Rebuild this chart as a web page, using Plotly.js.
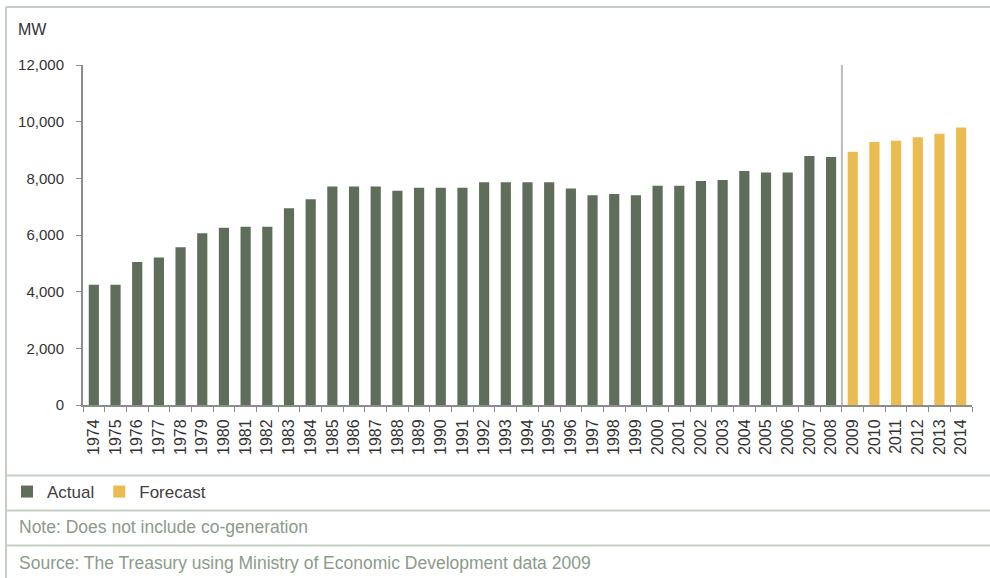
<!DOCTYPE html>
<html>
<head>
<meta charset="utf-8">
<script src="https://cdn.plot.ly/plotly-3.0.1.min.js"></script>
<style>
  html, body { margin: 0; padding: 0; background: #ffffff; }
  #chart { width: 990px; height: 578px; }
</style>
</head>
<body>
<div id="chart"></div>
<script>
// ---- Data ----
const actualYears = ["1974","1975","1976","1977","1978","1979","1980","1981","1982","1983",
  "1984","1985","1986","1987","1988","1989","1990","1991","1992","1993","1994","1995",
  "1996","1997","1998","1999","2000","2001","2002","2003","2004","2005","2006","2007","2008"];
const actualMW = [4240,4240,5050,5210,5570,6060,6260,6290,6290,6940,
  7260,7710,7710,7710,7560,7670,7670,7670,7860,7860,7860,7860,
  7640,7400,7450,7400,7740,7740,7910,7940,8260,8210,8210,8790,8750];
const forecastYears = ["2009","2010","2011","2012","2013","2014"];
const forecastMW = [8940,9280,9330,9450,9570,9790];

const yTickVals = [0,2000,4000,6000,8000,10000,12000];
const yTickText = ["0","2,000","4,000","6,000","8,000","10,000","12,000"];
const unitLabel = "MW";
const noteText = "Note: Does not include co-generation";
const sourceText = "Source: The Treasury using Ministry of Economic Development data 2009";

// ---- Layout geometry (pixels) ----
const W = 990, H = 578;
const plotL = 83, plotR = 972, plotT = 65, plotB = 405;
const pw = plotR - plotL, ph = plotB - plotT;
const px = x => (x - plotL) / pw;
const py = y => (plotB - y) / ph;

const allYears = actualYears.concat(forecastYears);
const borderColor = "#c6cfc6";
const fontFam = "Liberation Sans, Arial, sans-serif";

const traces = [
  { type: "bar", name: "Actual", x: actualYears, y: actualMW,
    marker: { color: "#5f6e5b" }, hoverinfo: "x+y" },
  { type: "bar", name: "Forecast", x: forecastYears, y: forecastMW,
    marker: { color: "#ecbb50" }, hoverinfo: "x+y" }
];

const shapes = [
  // divider between actual and forecast
  { type: "line", xref: "x", yref: "paper", x0: actualYears.length - 0.5, x1: actualYears.length - 0.5,
    y0: 0, y1: 1, line: { color: "#b7bfb7", width: 2 } },
  // outer frame: left and top
  { type: "line", xref: "paper", yref: "paper", x0: px(6), x1: px(6), y0: py(7), y1: py(578),
    line: { color: borderColor, width: 2 } },
  { type: "line", xref: "paper", yref: "paper", x0: px(6), x1: px(990), y0: py(7), y1: py(7),
    line: { color: borderColor, width: 2 } },
  // separators
  { type: "line", xref: "paper", yref: "paper", x0: px(6), x1: px(990), y0: py(475.5), y1: py(475.5),
    line: { color: borderColor, width: 2 } },
  { type: "line", xref: "paper", yref: "paper", x0: px(6), x1: px(990), y0: py(510.5), y1: py(510.5),
    line: { color: borderColor, width: 2 } },
  { type: "line", xref: "paper", yref: "paper", x0: px(6), x1: px(990), y0: py(545.5), y1: py(545.5),
    line: { color: borderColor, width: 2 } }
];

const annotations = [
  { xref: "paper", yref: "paper", x: px(16), y: py(30), xanchor: "left", yanchor: "middle",
    text: unitLabel, showarrow: false, font: { family: fontFam, size: 16, color: "#333333" } },
  { xref: "paper", yref: "paper", x: px(17), y: py(527), xanchor: "left", yanchor: "middle",
    text: noteText, showarrow: false, font: { family: fontFam, size: 17.5, color: "#8d9a8b" } },
  { xref: "paper", yref: "paper", x: px(17), y: py(563), xanchor: "left", yanchor: "middle",
    text: sourceText, showarrow: false, font: { family: fontFam, size: 17.5, color: "#8d9a8b" } }
];

const layout = {
  width: W, height: H,
  margin: { l: plotL, r: W - plotR, t: plotT, b: H - plotB, pad: 0, autoexpand: false },
  paper_bgcolor: "#ffffff", plot_bgcolor: "#ffffff",
  font: { family: fontFam, size: 14, color: "#333333" },
  barmode: "overlay",
  bargap: 0.53,
  showlegend: true,
  legend: { orientation: "h", x: px(7), y: py(492), xanchor: "left", yanchor: "middle",
    font: { family: fontFam, size: 17, color: "#404040" }, bgcolor: "rgba(0,0,0,0)",
    itemclick: false, traceorder: "normal" },
  xaxis: {
    type: "category", categoryorder: "array", categoryarray: allYears,
    range: [-0.5, allYears.length - 0.5],
    showline: true, linecolor: "#8c8c8c", linewidth: 2,
    ticks: "outside", tickson: "boundaries", ticklen: 5, tickcolor: "#8c8c8c", tickwidth: 1,
    tickangle: -90, ticklabelstandoff: 6,
    tickfont: { family: fontFam, size: 16, color: "#333333" },
    showgrid: false, zeroline: false, fixedrange: true, automargin: false
  },
  yaxis: {
    range: [0, 12000], tickvals: yTickVals, ticktext: yTickText,
    showline: true, linecolor: "#8c8c8c", linewidth: 2,
    ticks: "outside", ticklen: 5, tickcolor: "#8c8c8c", tickwidth: 1,
    ticklabelstandoff: 9,
    tickfont: { family: fontFam, size: 15, color: "#333333" },
    showgrid: false, zeroline: false, fixedrange: true, automargin: false
  },
  shapes: shapes,
  annotations: annotations
};

Plotly.newPlot("chart", traces, layout, { displayModeBar: false, staticPlot: true });
</script>
</body>
</html>
